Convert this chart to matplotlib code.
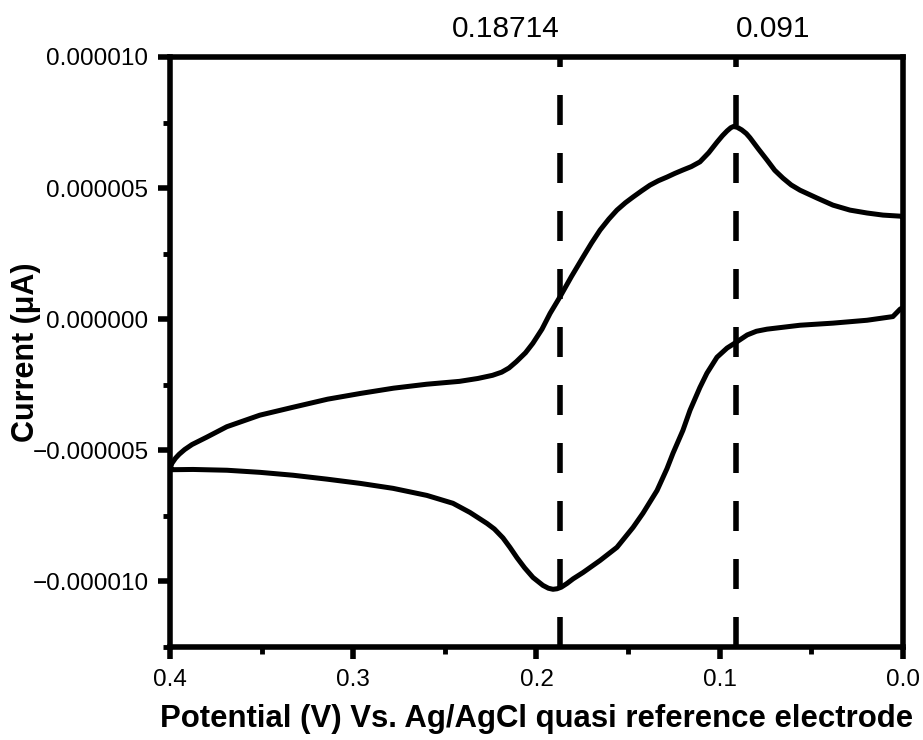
import matplotlib
matplotlib.use('Agg')
import matplotlib.pyplot as plt
import matplotlib.transforms as mtransforms
from matplotlib.ticker import MultipleLocator, FuncFormatter

plt.rcParams['font.family'] = ['Liberation Sans', 'DejaVu Sans']

# upper sweep, potential (V) and current (uA)
fwd_v = [0.400, 0.399, 0.397, 0.395, 0.392, 0.388, 0.380, 0.369, 0.351, 0.333,
         0.314, 0.296, 0.278, 0.260, 0.242, 0.232, 0.224, 0.219, 0.215, 0.211,
         0.206, 0.202, 0.197, 0.1926, 0.1872, 0.181, 0.1746, 0.170, 0.1653,
         0.1605, 0.1561, 0.1515, 0.1473, 0.1425, 0.1381, 0.1335, 0.1288, 0.1245,
         0.1201, 0.1155, 0.1108, 0.1060, 0.1015, 0.0985, 0.0960, 0.0940, 0.0925,
         0.0905, 0.0880, 0.0855, 0.0835, 0.0790, 0.0742, 0.0700, 0.0655, 0.0610,
         0.0562, 0.0469, 0.0382, 0.0289, 0.0196, 0.0109, 0.0016, 0.0]
fwd_i = [-5.72, -5.50, -5.30, -5.15, -4.97, -4.78, -4.50, -4.10, -3.66, -3.36,
         -3.05, -2.83, -2.63, -2.48, -2.37, -2.26, -2.14, -2.02, -1.86, -1.62,
         -1.28, -0.92, -0.38, 0.22, 0.85, 1.62, 2.37, 2.90, 3.40,
         3.82, 4.16, 4.44, 4.66, 4.90, 5.11, 5.28, 5.42, 5.56,
         5.69, 5.82, 6.00, 6.35, 6.75, 7.00, 7.18, 7.30, 7.35,
         7.32, 7.22, 7.08, 6.92, 6.50, 6.07, 5.68, 5.38, 5.12,
         4.92, 4.62, 4.35, 4.16, 4.05, 3.97, 3.93, 3.92]

# lower sweep, back from 0.0 V to 0.4 V
rev_v = [0.0, 0.0016, 0.0055, 0.0196, 0.0382, 0.0562, 0.0742, 0.0800, 0.0850,
         0.0906, 0.0960, 0.1015, 0.1070, 0.1108, 0.1162, 0.1201, 0.1255, 0.1288,
         0.1342, 0.1419, 0.1473, 0.1561, 0.1653, 0.1746, 0.1800, 0.1834, 0.1865,
         0.1888, 0.1910, 0.1935, 0.1965, 0.2019, 0.2065, 0.2106, 0.2145, 0.2183,
         0.2230, 0.2270, 0.2363, 0.2456, 0.2598, 0.2783, 0.2963, 0.3143, 0.3329,
         0.3509, 0.3689, 0.3874, 0.400]
rev_i = [0.45, 0.38, 0.10, -0.04, -0.15, -0.23, -0.38, -0.46, -0.60,
         -0.86, -1.10, -1.45, -2.06, -2.60, -3.47, -4.24, -5.11, -5.70,
         -6.53, -7.40, -7.94, -8.70, -9.20, -9.66, -9.90, -10.08, -10.22,
         -10.28, -10.30, -10.26, -10.15, -9.85, -9.48, -9.10, -8.70, -8.34,
         -8.00, -7.79, -7.37, -7.02, -6.72, -6.45, -6.26, -6.10, -5.95,
         -5.84, -5.76, -5.73, -5.74]

peak_pos = [0.18714, 0.091]
peak_text = ['0.18714', '0.091']
x_ticks = [0.4, 0.3, 0.2, 0.1, 0.0]
y_ticks = [-0.000010, -0.000005, 0.0, 0.000005, 0.000010]

fig = plt.figure(figsize=(9.23, 7.40), dpi=100)
ax = fig.add_axes([0.1842, 0.1257, 0.7941, 0.7973])

volts = fwd_v + rev_v
amps = [c * 1e-6 for c in fwd_i + rev_i]
ax.plot(volts, amps, color='black', lw=3.6, solid_joinstyle='round', zorder=2)

for p in peak_pos:
    ax.axvline(p, color='black', lw=4, linestyle=(0, (5.4, 5.04)), zorder=3)

trans = mtransforms.blended_transform_factory(ax.transData, ax.transAxes)
ax.text(peak_pos[0], 1.034, peak_text[0], transform=trans, ha='right',
        va='baseline', fontsize=21.5)
ax.text(peak_pos[1], 1.034, peak_text[1], transform=trans, ha='left',
        va='baseline', fontsize=21.5)

ax.set_xlim(0.4, 0.0)
ax.set_ylim(-1.25e-5, 1e-5)
ax.set_xticks(x_ticks)
ax.set_yticks(y_ticks)
ax.xaxis.set_minor_locator(MultipleLocator(0.05))
ax.yaxis.set_minor_locator(MultipleLocator(2.5e-6))
ax.xaxis.set_major_formatter(FuncFormatter(lambda v, pos: f'{v:.1f}'))
ax.yaxis.set_major_formatter(FuncFormatter(lambda v, pos: f'{v:.6f}'.replace('-', '\u2212')))

ax.tick_params(which='major', direction='out', length=8.5, width=4,
               labelsize=17.5, pad=7)
ax.tick_params(which='minor', direction='out', length=5, width=3.5)
for s in ax.spines.values():
    s.set_linewidth(4)

ax.set_xlabel('Potential (V) Vs. Ag/AgCl quasi reference electrode',
              fontsize=22.4, fontweight='bold', labelpad=10)
ax.set_ylabel('Current (\u03bcA)', fontsize=22, fontweight='bold')
ax.yaxis.set_label_coords(-0.176, 0.5)

fig.savefig('out.png', dpi=100)
